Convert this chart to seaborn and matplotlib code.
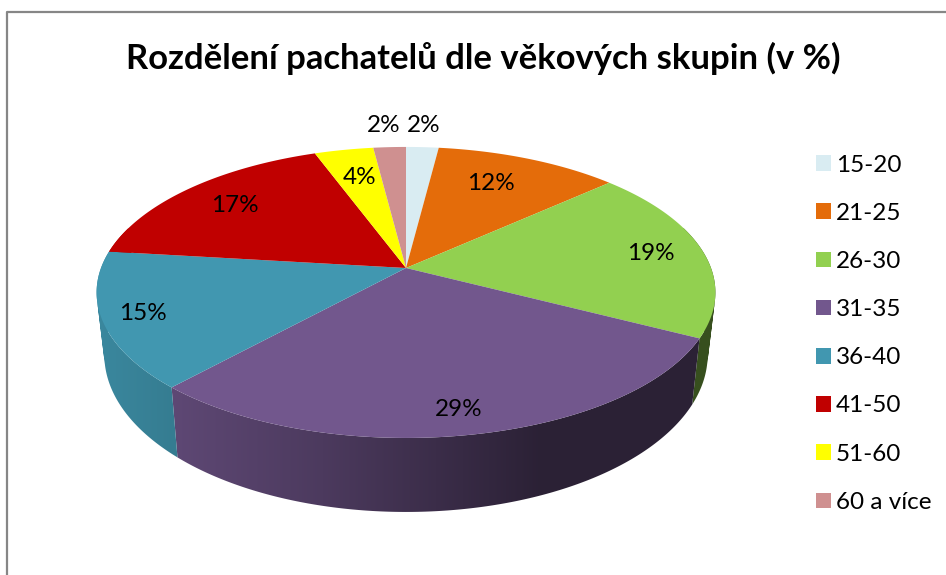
"""Pachatele dle vekovych skupin - 3D pie"""

import numpy as np
import matplotlib.pyplot as plt
from matplotlib.lines import Line2D
from matplotlib.patches import Patch, PathPatch, Polygon
from matplotlib.path import Path
import seaborn as sns

title = "Rozdělení pachatelů dle věkových skupin (v %)"
age_groups = ["15-20", "21-25", "26-30", "31-35", "36-40", "41-50", "51-60", "60 a více"]
# unrounded estimates read from the slice edges, labels below are what the chart prints
shares = [2.0, 11.3, 19.3, 29.15, 15.14, 17.49, 3.62, 2.0]
share_labels = ["2%", "12%", "19%", "29%", "15%", "17%", "4%", "2%"]
colors = ["#d9ecf2", "#e46c0a", "#92d050", "#72578d", "#4197b0", "#c00000", "#ffff00", "#cf9090"]

# label centres in pixels, same order as the groups
label_pos = [(424, 125), (491, 184), (651, 254), (459, 410), (143, 313), (235, 206), (360, 178), (384, 125)]

# pie geometry in pixels
cx, cy = 406, 268
persp = 0.168
scale_x, scale_y = 305.0, 141.4


def project(theta):
    # theta is clockwise from 12 o'clock, perspective squeezes the back half
    u, v = np.sin(theta), np.cos(theta)
    d = 1 + persp * v
    return scale_x * u / d, scale_y * v / d


def top_points(theta):
    x, y = project(theta)
    return np.column_stack([cx + x, cy - y])


def bottom_points(theta):
    x, y = project(theta)
    return np.column_stack([cx + 0.975 * x, cy - (1.08 * y - 60.4)])


def wall_shade(x):
    # darker to the right like the excel lighting
    return np.interp(x, [96, 178, 320, 540, 717], [0.9, 0.82, 0.67, 0.38, 0.38])


def signed_area(pts):
    x, y = pts[:, 0], pts[:, 1]
    return 0.5 * np.sum(x * np.roll(y, -1) - np.roll(x, -1) * y)


def wall_path(thetas):
    # one quad per step so the outline follows the tangent at the pie sides
    top, bottom = top_points(thetas), bottom_points(thetas)
    quads = []
    for j in range(len(thetas) - 1):
        pts = np.vstack([top[j], top[j + 1], bottom[j + 1], bottom[j]])
        # same winding everywhere, folded quads would cancel out otherwise
        if signed_area(pts) < 0:
            pts = pts[::-1]
        quads.append(Path(np.vstack([pts, pts[0]]), closed=True))
    return Path.make_compound_path(*quads)


def draw_walls(ax, edges, palette):
    xs = np.arange(90, 725)
    for i, rgb in enumerate(palette):
        thetas = np.linspace(edges[i], edges[i + 1], 200)
        thetas = thetas[np.cos(thetas) < 0.3]
        if len(thetas) < 2:
            continue
        poly = PathPatch(wall_path(thetas), facecolor="none", edgecolor="none", transform=ax.transData)
        ax.add_patch(poly)
        grad = np.outer(wall_shade(xs), np.array(rgb))[np.newaxis, :, :]
        im = ax.imshow(grad, extent=(xs[0], xs[-1], 575, 0), aspect="auto", zorder=1,
                       interpolation="bilinear")
        im.set_clip_path(poly)


def draw_top(ax, edges, palette):
    for i, rgb in enumerate(palette):
        thetas = np.linspace(edges[i], edges[i + 1], 200)
        pts = np.vstack([[cx, cy], top_points(thetas)])
        ax.add_patch(Polygon(pts, closed=True, facecolor=rgb, edgecolor="none", zorder=2))


def main():
    sns.set_theme(style="white")
    plt.rcParams["font.family"] = ["Lato", "DejaVu Sans"]
    plt.rcParams["path.simplify"] = False
    palette = sns.color_palette(colors)

    fig = plt.figure(figsize=(9.46, 5.75), dpi=100)
    ax = fig.add_axes([0, 0, 1, 1])

    edges = 2 * np.pi * np.concatenate([[0], np.cumsum(shares)]) / sum(shares)
    draw_walls(ax, edges, palette)
    draw_top(ax, edges, palette)

    ax.set_xlim(0, 946)
    ax.set_ylim(575, 0)
    ax.axis("off")

    for txt, (x, y) in zip(share_labels, label_pos):
        ax.text(x, y, txt, ha="center", va="center", fontsize=17.5, color="black", zorder=3)

    ax.text(483, 58, title, ha="center", va="center", fontsize=24.9, fontweight="bold", color="black")

    # chart frame, cut off by the screenshot on the right and bottom
    ax.add_line(Line2D([7, 7, 946], [575, 11.5, 11.5], color="#868686", linewidth=1.6))

    handles = [Patch(facecolor=c, edgecolor="none") for c in palette]
    ax.legend(handles, age_groups, loc="upper left", bbox_to_anchor=(816 / 946, 1 - 154.5 / 575),
              frameon=False, fontsize=17.5, handlelength=0.61, handleheight=0.61,
              handletextpad=0.21, labelspacing=1.119, borderpad=0, borderaxespad=0, labelcolor="black")

    fig.savefig("out.png", dpi=100)


if __name__ == "__main__":
    main()
